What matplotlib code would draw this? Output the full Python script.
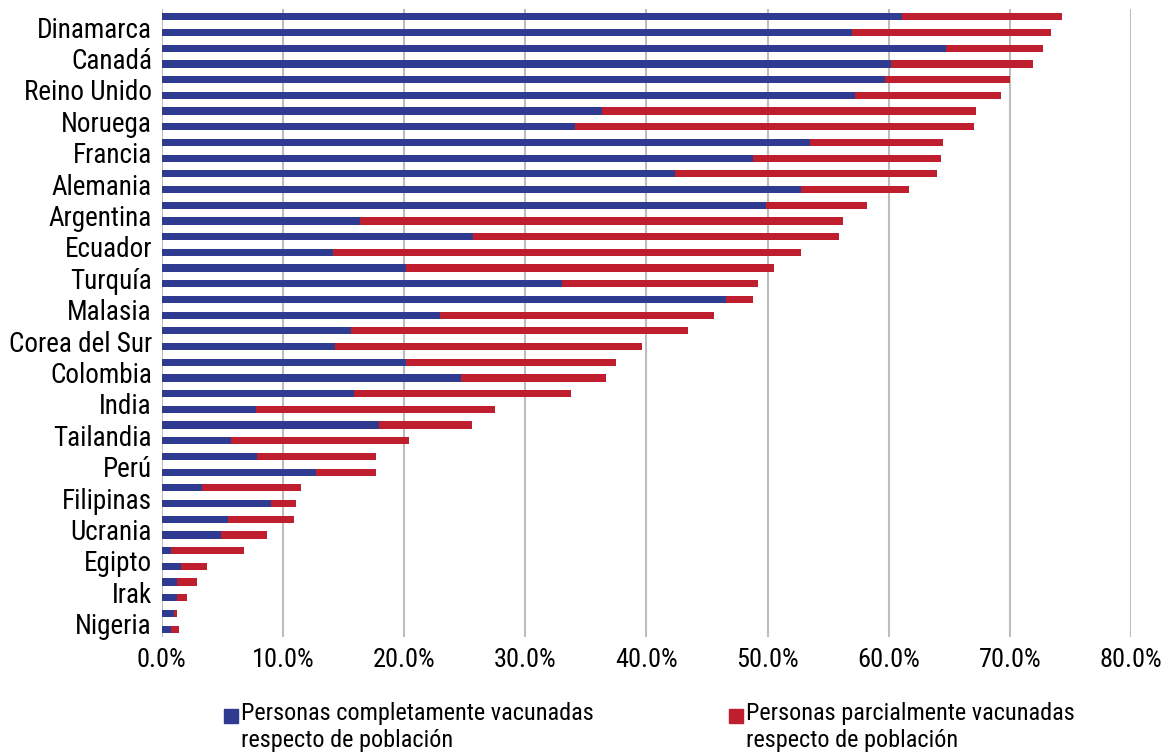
import numpy as np
import matplotlib.pyplot as plt
from matplotlib.patches import Rectangle

# vaccination share per population, two bars per labelled country pair
paises = ['Dinamarca', 'Canadá', 'Reino Unido', 'Noruega', 'Francia',
          'Alemania', 'Argentina', 'Ecuador', 'Turquía', 'Malasia',
          'Corea del Sur', 'Colombia', 'India', 'Tailandia', 'Perú',
          'Filipinas', 'Ucrania', 'Egipto', 'Irak', 'Nigeria']

completas = [61.1, 57.0, 64.7, 60.2, 59.7, 57.2, 36.3, 34.1, 53.5, 48.8,
             42.4, 52.8, 49.9, 16.4, 25.7, 14.1, 20.2, 33.0, 46.6, 23.0,
             15.6, 14.3, 20.2, 24.7, 15.9, 7.8, 17.9, 5.7, 7.9, 12.7,
             3.3, 9.0, 5.5, 4.9, 0.8, 1.6, 1.3, 1.3, 1.0, 0.8]

parciales = [13.2, 16.4, 8.0, 11.7, 10.3, 12.1, 30.9, 32.9, 11.0, 15.5,
             21.6, 8.9, 8.3, 39.8, 30.2, 38.7, 30.3, 16.2, 2.2, 22.6,
             27.8, 25.3, 17.3, 12.0, 17.9, 19.7, 7.7, 14.7, 9.8, 5.0,
             8.2, 2.1, 5.4, 3.8, 6.0, 2.1, 1.6, 0.8, 0.3, 0.6]

ticks_x = [0, 10, 20, 30, 40, 50, 60, 70, 80]

azul = '#2E3B90'
rojo = '#BE1E2D'

plt.rcParams['font.family'] = ['Roboto Condensed', 'DejaVu Sans']

fig = plt.figure(figsize=(11.75, 7.55), dpi=100)
ax = fig.add_axes([0.1376, 0.1563, 0.8250, 0.8318])

comp = np.array(completas) / 100.
parc = np.array(parciales) / 100.
y = np.arange(len(comp))

ax.barh(y, comp, height=0.46, color=azul, zorder=3)
ax.barh(y, parc, left=comp, height=0.46, color=rojo, zorder=3)

ax.set_xlim(0, 0.8)
ax.set_ylim(len(comp) - 0.5, -0.5)
ax.set_xticks([t / 100. for t in ticks_x])
ax.set_xticklabels(['%.1f%%' % t for t in ticks_x], fontsize=19)
ax.set_yticks(np.arange(len(paises)) * 2 + 0.65)
ax.set_yticklabels(paises, fontsize=19.5)
ax.tick_params(length=0)
ax.tick_params(axis='x', pad=8)
ax.tick_params(axis='y', pad=7)
ax.xaxis.grid(True, color='#BDBDBD', linewidth=1.5, zorder=0)
for s in ax.spines.values():
    s.set_visible(False)

# legend drawn by hand so the squares sit on the first text line
W, H = 1175., 755.
for x0, col, texto in [(224, azul, 'Personas completamente vacunadas\nrespecto de población'),
                       (729, rojo, 'Personas parcialmente vacunadas\nrespecto de población')]:
    fig.add_artist(Rectangle((x0 / W, 1 - 723 / H), 14 / W, 14 / H,
                             transform=fig.transFigure, color=col))
    fig.text((x0 + 17) / W, 1 - 702 / H, texto, fontsize=17.5, va='top',
             ha='left', linespacing=1.2)

fig.savefig('out.png', dpi=100)
plt.close()
